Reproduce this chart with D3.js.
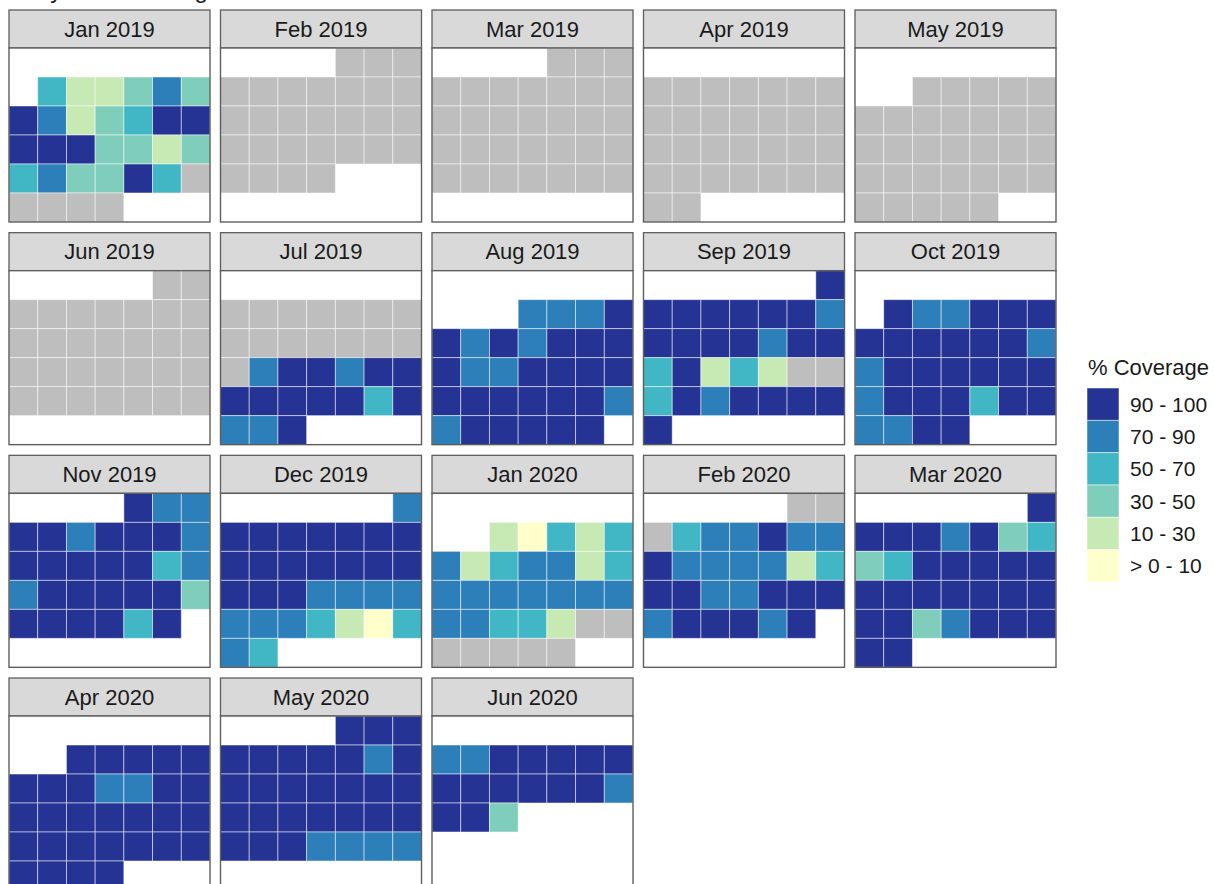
<!DOCTYPE html>
<html>
<head>
<meta charset="utf-8">
<script src="https://cdn.jsdelivr.net/npm/d3@7"></script>
<style>
  body { margin: 0; background: #fff; }
  svg { display: block; font-family: "Liberation Sans", Arial, sans-serif; }
</style>
</head>
<body>
<svg id="main-svg" width="1214" height="884"></svg>
<script>
// facet labels + first day of each month
var monthLabels = ["Jan 2019","Feb 2019","Mar 2019","Apr 2019","May 2019","Jun 2019",
    "Jul 2019","Aug 2019","Sep 2019","Oct 2019","Nov 2019","Dec 2019",
    "Jan 2020","Feb 2020","Mar 2020","Apr 2020","May 2020","Jun 2020"];
var monthStarts = ["2019-01-01","2019-02-01","2019-03-01","2019-04-01","2019-05-01","2019-06-01",
    "2019-07-01","2019-08-01","2019-09-01","2019-10-01","2019-11-01","2019-12-01",
    "2020-01-01","2020-02-01","2020-03-01","2020-04-01","2020-05-01","2020-06-01"];

// daily % coverage (estimated mid-bin values, 0 = no data)
var jan2019 = [60,20,20,40,80,40, 95,80,20,40,60,95,95, 95,95,95,40,40,20,40, 60,80,40,40,95,60,0, 0,0,0,0];
var feb2019 = [0,0,0,0,0,0,0,0,0,0,0,0,0,0,0,0,0,0,0,0,0,0,0,0,0,0,0,0];
var mar2019 = [0,0,0,0,0,0,0,0,0,0,0,0,0,0,0,0,0,0,0,0,0,0,0,0,0,0,0,0,0,0,0];
var apr2019 = [0,0,0,0,0,0,0,0,0,0,0,0,0,0,0,0,0,0,0,0,0,0,0,0,0,0,0,0,0,0];
var may2019 = [0,0,0,0,0,0,0,0,0,0,0,0,0,0,0,0,0,0,0,0,0,0,0,0,0,0,0,0,0,0,0];
var jun2019 = [0,0,0,0,0,0,0,0,0,0,0,0,0,0,0,0,0,0,0,0,0,0,0,0,0,0,0,0,0,0];
var jul2019 = [0,0,0,0,0,0,0, 0,0,0,0,0,0,0, 0,80,95,95,80,95,95, 95,95,95,95,95,60,95, 80,80,95];
var aug2019 = [80,80,80,95, 95,80,95,80,95,95,95, 95,80,80,95,95,95,95, 95,95,95,95,95,95,80, 80,95,95,95,95,95];
var sep2019 = [95, 95,95,95,95,95,95,80, 95,95,95,95,80,95,95, 60,95,20,60,20,0,0, 60,95,80,95,95,95,95, 95];
var oct2019 = [95,80,80,95,95,95, 95,95,95,95,95,95,80, 80,95,95,95,95,95,95, 80,95,95,95,60,95,95, 80,80,95,95];
var nov2019 = [95,80,80, 95,95,80,95,95,95,80, 95,95,95,95,95,60,80, 80,95,95,95,95,95,40, 95,95,95,95,60,95];
var dec2019 = [80, 95,95,95,95,95,95,95, 95,95,95,95,95,95,95, 95,95,95,80,80,80,80, 80,80,80,60,20,5,60, 80,60];
var jan2020 = [20,5,60,20,60, 80,20,60,80,80,20,60, 80,80,80,80,80,80,80, 80,80,60,60,20,0,0, 0,0,0,0,0];
var feb2020 = [0,0, 0,60,80,80,95,80,80, 95,80,80,80,80,20,60, 95,95,80,80,95,95,95, 80,95,95,95,80,95];
var mar2020 = [95, 95,95,95,80,95,40,60, 40,60,95,95,95,95,95, 95,95,95,95,95,95,95, 95,95,40,80,95,95,95, 95,95];
var apr2020 = [95,95,95,95,95, 95,95,95,80,80,95,95, 95,95,95,95,95,95,95, 95,95,95,95,95,95,95, 95,95,95,95];
var may2020 = [95,95,95, 95,95,95,95,95,80,95, 95,95,95,95,95,95,95, 95,95,95,95,95,95,95, 95,95,95,80,80,80,80];
var jun2020 = [80,80,95,95,95,95,95, 95,95,95,95,95,95,80, 95,95,40];

var coverageByMonth = [jan2019,feb2019,mar2019,apr2019,may2019,jun2019,jul2019,aug2019,sep2019,
    oct2019,nov2019,dec2019,jan2020,feb2020,mar2020,apr2020,may2020,jun2020];

// legend bins
var binBreaks = [10,30,50,70,90];
var binColors = ["#ffffcc","#c7e9b4","#7fcdbb","#41b6c4","#2c7fb8","#253494"];
var binLabels = ["> 0 - 10","10 - 30","30 - 50","50 - 70","70 - 90","90 - 100"];
var noDataColor = "#bebebe";

var svg = d3.select("#main-svg");
var parse = d3.timeParse("%Y-%m-%d");

var binScale = d3.scaleThreshold().domain(binBreaks).range(binColors);
function fillFor(v) { return v === 0 ? noDataColor : binScale(v); }

// facet grid: 5 columns x 4 rows
var nCols = 5;
var fx = d3.scaleBand().domain(d3.range(nCols)).range([9, 1056]).paddingInner(0.0496);
var fy = d3.scaleBand().domain(d3.range(4)).range([10, 890]).paddingInner(0.048);
var stripH = 38;
var panelW = fx.bandwidth();
var panelH = fy.bandwidth() - stripH;

// cells inside a panel
var x = d3.scaleBand().domain(d3.range(7)).range([0, panelW]);
var y = d3.scaleBand().domain(d3.range(6)).range([0, panelH]);

// title (mostly above the visible area, as in the original)
svg.append("text")
    .attr("x", 9).attr("y", -2)
    .style("font-size", "24px")
    .attr("fill", "#1a1a1a")
    .text("Daily data coverage");

monthLabels.forEach(function (label, m) {
    var first = parse(monthStarts[m]);
    var firstCol = (first.getDay() + 6) % 7;          // Monday = 0
    var rowOffset = firstCol <= 3 ? 1 : 0;
    var days = coverageByMonth[m].map(function (v, i) {
        var idx = i + firstCol;
        return {value: v, col: idx % 7, row: Math.floor(idx / 7) + rowOffset};
    });

    var g = svg.append("g")
        .attr("transform", "translate(" + fx(m % nCols) + "," + fy(Math.floor(m / nCols)) + ")");

    // strip
    g.append("rect")
        .attr("x", 0).attr("y", 0)
        .attr("width", panelW).attr("height", stripH)
        .attr("fill", "#d9d9d9")
        .attr("stroke", "#5e5e5e").attr("stroke-width", 1.3);
    g.append("text")
        .attr("x", panelW / 2).attr("y", stripH / 2 + 7.5)
        .attr("text-anchor", "middle")
        .attr("fill", "#1a1a1a")
        .style("font-size", "22px")
        .text(label);

    var panel = g.append("g").attr("transform", "translate(0," + stripH + ")");
    panel.append("rect")
        .attr("width", panelW).attr("height", panelH)
        .attr("fill", "white");

    panel.selectAll("rect.cell")
        .data(days)
        .enter().append("rect")
        .attr("class", "cell")
        .attr("x", function (d) { return x(d.col); })
        .attr("y", function (d) { return y(d.row); })
        .attr("width", x.bandwidth())
        .attr("height", y.bandwidth())
        .attr("fill", function (d) { return fillFor(d.value); })
        .attr("stroke", "white")
        .attr("stroke-opacity", 0.55)
        .attr("stroke-width", 0.9);

    panel.append("rect")
        .attr("width", panelW).attr("height", panelH)
        .attr("fill", "none")
        .attr("stroke", "#5e5e5e").attr("stroke-width", 1.4);
});

// legend
var legend = svg.append("g").attr("transform", "translate(1087,0)");
legend.append("text")
    .attr("x", 1).attr("y", 375)
    .attr("fill", "#1a1a1a")
    .style("font-size", "22px")
    .text("% Coverage");

var ly = d3.scaleBand().domain(d3.range(binLabels.length)).range([388, 582]);
var legendOrder = binLabels.map(function (l, i) { return i; }).reverse();

legend.selectAll("rect.key")
    .data(legendOrder)
    .enter().append("rect")
    .attr("class", "key")
    .attr("x", 0)
    .attr("y", function (d, i) { return ly(i); })
    .attr("width", 32)
    .attr("height", ly.bandwidth())
    .attr("fill", function (d) { return binColors[d]; })
    .attr("stroke", "white").attr("stroke-opacity", 0.55).attr("stroke-width", 0.9);

legend.selectAll("text.lab")
    .data(legendOrder)
    .enter().append("text")
    .attr("class", "lab")
    .attr("x", 43)
    .attr("y", function (d, i) { return ly(i) + ly.bandwidth() / 2 + 7.5; })
    .attr("fill", "#1a1a1a")
    .style("font-size", "21px")
    .text(function (d) { return binLabels[d]; });
</script>
</body>
</html>
